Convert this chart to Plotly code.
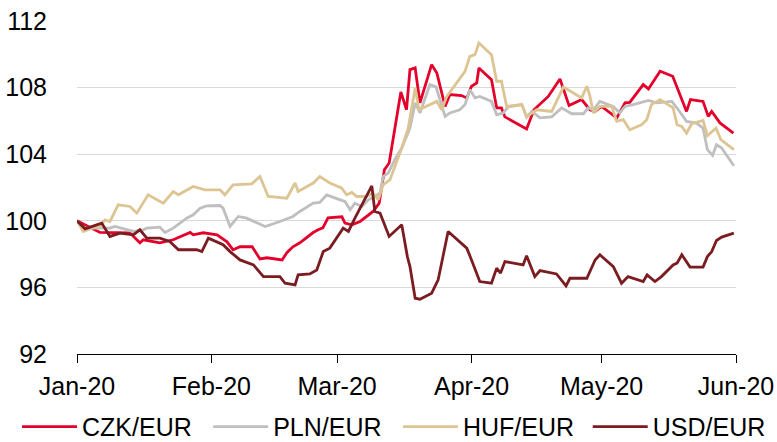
import plotly.graph_objects as go

# x positions are days since 1 Jan 2020
month_ticks = [0, 31, 60, 91, 121, 152]
month_labels = ["Jan-20", "Feb-20", "Mar-20", "Apr-20", "May-20", "Jun-20"]
y_ticks = [92, 96, 100, 104, 108, 112]

czk_days = [0, 3.0, 5.3, 12.2, 14.5, 15.3, 19.1, 22.2, 26.1, 26.8, 29.1, 32.3, 34.6, 36.0, 37.6, 40.4,
            42.2, 43.8, 47.3, 48.4, 49.8, 51.4, 54.4, 55.6, 56.7, 57.9, 61.1, 61.8, 63.4, 65.3, 66.8,
            68.3, 69.7, 70.9, 72.0, 74.7, 76.0, 76.8, 78.0, 79.1, 81.8, 83.0, 84.9, 86.0, 88.7, 89.9,
            91.0, 92.2, 92.7, 95.6, 96.8, 97.9, 98.7, 103.7, 105.4, 108.7, 111.4, 113.5, 116.4, 118.3,
            119.5, 121.0, 124.5, 126.4, 127.5, 130.6, 131.8, 134.5, 137.4, 140.6, 141.5, 144.4, 145.6,
            146.4, 148.3, 151.4]
czk_vals = [100, 99.58, 99.30, 99.28, 98.68, 98.86, 98.68, 98.86, 99.30, 99.16, 99.28, 99.16, 98.74,
            98.26, 98.44, 98.44, 97.71, 97.78, 97.65, 98.08, 98.44, 98.68, 99.28, 99.46, 99.58, 100.18,
            100.24, 99.86, 99.76, 99.96, 100.26, 100.56, 101.06, 103.07, 103.47, 107.74, 106.67, 109.08,
            109.18, 107.08, 109.38, 108.88, 106.87, 107.58, 107.52, 107.38, 108.08, 108.28, 109.18,
            108.48, 106.78, 106.78, 106.24, 105.51, 106.67, 107.47, 108.52, 106.92, 107.28, 106.67,
            106.57, 106.87, 106.18, 107.08, 107.11, 108.18, 107.92, 108.98, 108.68, 106.57, 107.28,
            107.17, 106.27, 106.57, 105.88, 105.27]

pln_days = [0, 1.45, 7.6, 8.75, 13.0, 15.3, 16.1, 19.1, 20.3, 22.2, 25.3, 26.8, 28.4, 29.9, 33.0, 33.7,
            35.3, 37.2, 39.1, 43.4, 46.8, 49.1, 49.8, 51.4, 54.5, 56.0, 57.6, 60.7, 61.8, 63.0, 64.1,
            65.7, 67.2, 68.7, 69.9, 70.6, 71.8, 73.3, 74.9, 76.8, 78.0, 79.1, 81.4, 82.8, 84.9, 86.0,
            88.3, 89.5, 90.6, 91.8, 92.9, 95.6, 96.8, 98.3, 99.5, 102.6, 103.7, 104.9, 106.8, 109.5,
            111.8, 114.1, 116.8, 117.9, 119.1, 120.6, 123.7, 125.2, 126.4, 128.3, 131.8, 133.7, 137.2,
            138.7, 140.6, 142.9, 144.4, 145.4, 146.6, 147.5, 148.7, 151.5]
pln_vals = [100, 99.56, 99.56, 99.66, 99.36, 99.46, 99.56, 99.62, 99.30, 99.56, 100.16, 100.36, 100.76,
            100.90, 100.92, 100.76, 99.66, 100.26, 100.16, 99.66, 99.96, 100.16, 100.26, 100.56, 101.06,
            101.10, 101.56, 101.26, 101.16, 100.66, 101.06, 100.86, 101.26, 101.46, 101.67, 102.66,
            102.87, 103.67, 104.37, 105.57, 107.08, 106.48, 108.18, 108.04, 106.27, 106.48, 106.67,
            106.98, 107.88, 107.38, 107.47, 107.17, 106.37, 106.48, 106.84, 106.98, 106.24, 106.57,
            106.18, 106.24, 106.78, 106.43, 106.43, 106.78, 106.67, 107.17, 106.87, 106.48, 106.87,
            106.98, 107.23, 107.08, 107.17, 106.67, 105.97, 105.87, 105.57, 104.27, 103.93, 104.57,
            104.37, 103.31]

huf_days = [0, 1.45, 3.4, 5.3, 6.45, 7.6, 9.5, 12.2, 13.8, 16.4, 19.9, 22.2, 23.4, 26.8, 29.5, 33.0,
            34.1, 36.0, 40.3, 42.2, 44.1, 48.4, 50.3, 51.0, 54.5, 56.0, 58.3, 61.0, 62.2, 63.4, 64.5,
            66.8, 68.3, 69.5, 70.6, 72.2, 74.9, 76.4, 78.0, 78.9, 83.0, 84.1, 85.3, 88.3, 89.5, 90.6,
            91.8, 92.7, 95.6, 96.8, 97.9, 99.1, 102.6, 103.7, 106.0, 109.5, 112.2, 116.4, 117.6, 118.3,
            119.1, 120.6, 123.3, 124.5, 126.0, 127.5, 130.2, 131.4, 132.5, 134.5, 137.5, 138.4, 139.5,
            140.6, 141.8, 144.4, 145.4, 147.4, 148.5, 151.5]
huf_vals = [100, 99.36, 99.56, 99.66, 100.06, 99.96, 100.96, 100.86, 100.46, 101.56, 101.06, 101.76,
            101.56, 102.06, 101.86, 101.86, 101.56, 102.16, 102.22, 102.66, 101.46, 101.36, 102.27,
            101.76, 102.27, 102.66, 102.27, 101.97, 101.56, 101.70, 101.46, 101.46, 101.67, 101.26,
            102.16, 102.47, 104.37, 105.57, 107.98, 106.67, 107.17, 106.67, 107.47, 108.58, 108.98,
            109.88, 109.98, 110.68, 109.98, 108.38, 108.38, 106.87, 106.98, 106.24, 106.67, 106.57,
            108.04, 107.38, 108.08, 107.5, 106.48, 106.87, 106.87, 105.97, 106.07, 105.47, 105.77,
            106.07, 106.98, 107.28, 106.78, 105.77, 105.67, 105.27, 105.83, 106.03, 105.11, 105.57,
            104.87, 104.27]

usd_days = [0, 1.85, 4.55, 5.7, 7.6, 9.9, 13.0, 14.5, 16.1, 19.1, 21.4, 23.4, 27.6, 28.8, 30.3, 33.7,
            35.3, 37.6, 40.7, 43.0, 46.8, 48.0, 50.3, 51.0, 53.7, 55.3, 56.8, 58.3, 61.4, 62.6, 64.1,
            68.0, 68.7, 69.9, 72.0, 74.9, 76.2, 76.8, 78.0, 79.1, 81.8, 83.3, 85.6, 88.3, 89.9, 91.0,
            92.6, 92.9, 95.6, 96.8, 97.7, 98.7, 102.9, 103.7, 105.6, 106.8, 110.6, 112.8, 113.7, 117.6,
            119.5, 120.6, 123.7, 125.6, 127.1, 130.6, 131.5, 133.3, 134.8, 137.5, 138.4, 139.5, 141.4,
            144.4, 145.4, 146.4, 147.5, 148.7, 151.5]
usd_vals = [100, 99.52, 99.76, 99.86, 99.06, 99.26, 99.16, 99.46, 98.96, 98.96, 98.76, 98.26, 98.26,
            98.15, 98.96, 98.56, 98.15, 97.65, 97.35, 96.65, 96.65, 96.25, 96.15, 96.75, 96.81, 97.05,
            98.15, 98.36, 99.56, 99.36, 100.16, 102.10, 100.56, 100.46, 99.06, 99.76, 97.85, 97.25,
            95.35, 95.29, 95.65, 96.45, 99.36, 98.76, 98.36, 97.65, 96.45, 96.35, 96.25, 97.16, 96.86,
            97.55, 97.35, 97.90, 96.65, 97.01, 96.81, 96.09, 96.55, 96.55, 97.65, 97.96, 97.25, 96.25,
            96.65, 96.35, 96.75, 96.35, 96.65, 97.35, 97.46, 97.96, 97.22, 97.22, 97.85, 98.15, 98.82,
            99.02, 99.26]

series = [
    ("CZK/EUR", czk_days, czk_vals, "#e4002b"),
    ("PLN/EUR", pln_days, pln_vals, "#bfbfbf"),
    ("HUF/EUR", huf_days, huf_vals, "#dcc593"),
    ("USD/EUR", usd_days, usd_vals, "#7b1c21"),
]

FONT = "Liberation Sans, Arial, sans-serif"
legend_ids = ["legend", "legend2", "legend3", "legend4"]
legend_x = [-0.091, 0.199, 0.487, 0.775]

fig = go.Figure()
for (name, xs, ys, col), lid in zip(series, legend_ids):
    fig.add_trace(go.Scatter(x=xs, y=ys, mode="lines", name=name, legend=lid,
                             line=dict(color=col, width=2.8)))

legend_style = dict(orientation="h", xanchor="left", y=-0.219, yanchor="middle",
                    itemwidth=55, font=dict(size=25), bgcolor="rgba(0,0,0,0)")
layout_legends = {lid: dict(legend_style, x=lx) for lid, lx in zip(legend_ids, legend_x)}

fig.update_layout(
    width=777, height=442,
    margin=dict(l=77, r=41, t=21, b=88, autoexpand=False),
    paper_bgcolor="white", plot_bgcolor="white",
    font=dict(family=FONT, size=25, color="#000000"),
    showlegend=True,
    **layout_legends,
)
fig.update_xaxes(range=[0, 152], tickvals=month_ticks, ticktext=month_labels,
                 showgrid=False, zeroline=False, showline=True, linecolor="#000000",
                 linewidth=1, ticks="outside", ticklen=8, tickcolor="#000000",
                 ticklabelstandoff=2, tickfont=dict(size=25))
fig.update_yaxes(range=[92, 112], tickvals=y_ticks, showgrid=True, gridcolor="#d9d9d9",
                 gridwidth=1, zeroline=False, showline=False, ticks="", ticklabelstandoff=29,
                 tickfont=dict(size=25))

fig.write_html("out.html", config={"displayModeBar": False},
               post_script="document.body.style.margin='0';document.body.style.overflow='hidden';")
